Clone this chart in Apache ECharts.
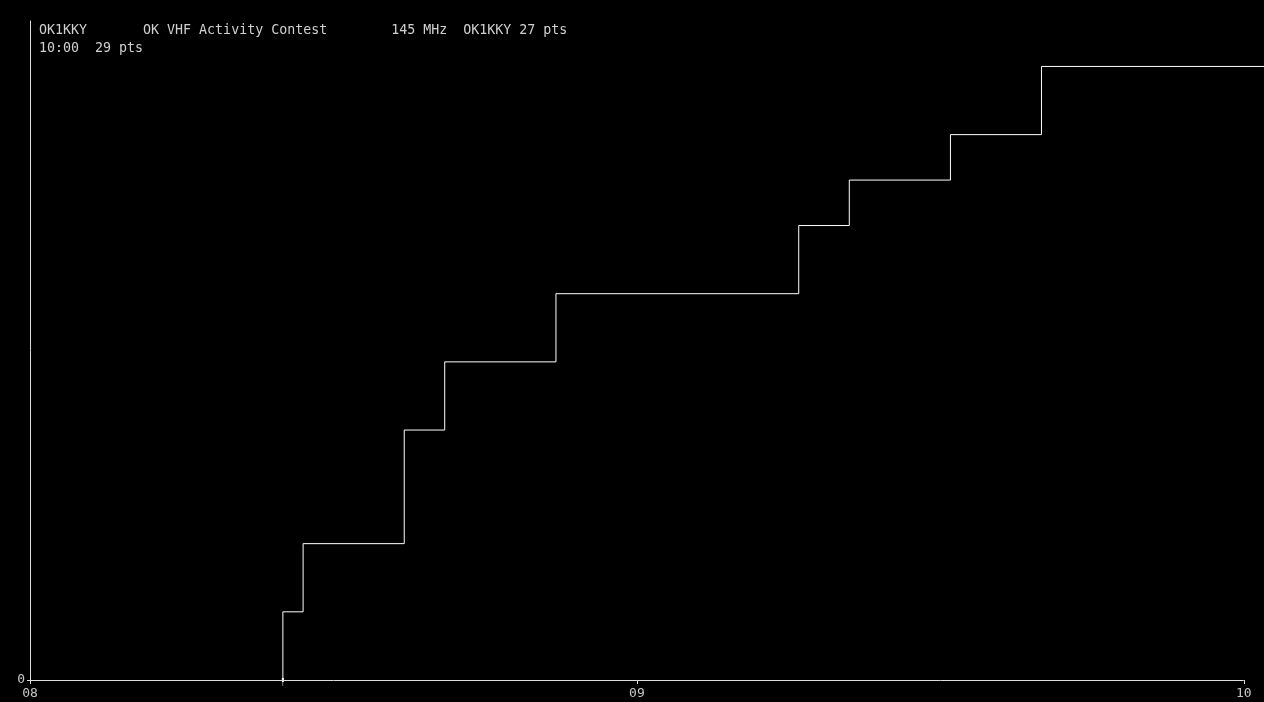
<!DOCTYPE html>
<html>
<head>
<meta charset="utf-8">
<script src="https://cdn.jsdelivr.net/npm/echarts@6/dist/echarts.min.js"></script>
<style>
html,body{margin:0;padding:0;background:#000;}
#chart{width:1264px;height:702px;}
</style>
</head>
<body>
<div id="chart"></div>
<script>
// minutes after 08:00 at which the score changed
const qsoMinutes = [25, 25, 27, 37, 41, 52, 76, 81, 91, 100, 122];
// cumulative points after each change
const scorePoints = [0, 3, 6, 11, 14, 17, 20, 22, 24, 27, 27];
const hourTicks = [0, 60, 120];
const hourLabels = ['08', '09', '10'];
const headerLine1 = 'OK1KKY       OK VHF Activity Contest        145 MHz  OK1KKY 27 pts';
const headerLine2 = '10:00  29 pts';
const yMax = 29;
const xMax = 122;

const font = "'DejaVu Sans Mono', monospace";
const seriesData = qsoMinutes.map((t, i) => {
  const item = { value: [t, scorePoints[i]] };
  if (i === 0) {
    item.symbol = 'path://M0,0 L4,0 L4,4 L0,4 Z M1.5,4 L2.5,4 L2.5,8 L1.5,8 Z';
    item.symbolSize = [4, 8];
    item.symbolOffset = [0, 2];
    item.symbolKeepAspect = true;
    item.itemStyle = { color: '#fff' };
  }
  return item;
});

const chart = echarts.init(document.getElementById('chart'));
chart.setOption({
  backgroundColor: '#000',
  animation: false,
  grid: { left: 30, right: 0, top: 21, bottom: 22 },
  graphic: [
    { type: 'text', left: 39, top: 24, style: { text: headerLine1, fill: '#d0d0d0', font: '13.3px ' + font } },
    { type: 'text', left: 39, top: 42, style: { text: headerLine2, fill: '#d0d0d0', font: '13.3px ' + font } }
  ],
  xAxis: {
    type: 'value', min: 0, max: xMax,
    axisLine: { show: false },
    axisTick: { show: true, length: 4, customValues: hourTicks, lineStyle: { color: '#ddd' } },
    splitLine: { show: false },
    axisLabel: {
      color: '#c8c8c8', fontFamily: font, fontSize: 13, margin: 7,
      customValues: hourTicks,
      formatter: v => hourLabels[hourTicks.indexOf(v)] || ''
    }
  },
  yAxis: {
    type: 'value', min: 0, max: yMax,
    axisLine: { show: true, lineStyle: { color: '#ddd', width: 1 } },
    axisTick: { show: true, length: 3, customValues: [0], lineStyle: { color: '#ddd' } },
    splitLine: { show: false },
    axisLabel: {
      color: '#c8c8c8', fontFamily: font, fontSize: 13, margin: 5,
      customValues: [0],
      formatter: v => v === 0 ? '0' : ''
    }
  },
  series: [{
    type: 'line',
    step: 'end',
    data: seriesData,
    showSymbol: true,
    symbol: 'none',
    z: 3,
    lineStyle: { color: '#fff', width: 1 },
    itemStyle: { color: '#fff' }
  }, {
    // x axis baseline from 08 to 10
    type: 'line',
    data: [],
    silent: true,
    z: 2,
    markLine: {
      silent: true,
      symbol: 'none',
      label: { show: false },
      lineStyle: { color: '#ddd', width: 1, type: 'solid' },
      data: [[{ coord: [hourTicks[0], 0] }, { coord: [hourTicks[hourTicks.length - 1], 0] }]]
    }
  }]
});
</script>
</body>
</html>
